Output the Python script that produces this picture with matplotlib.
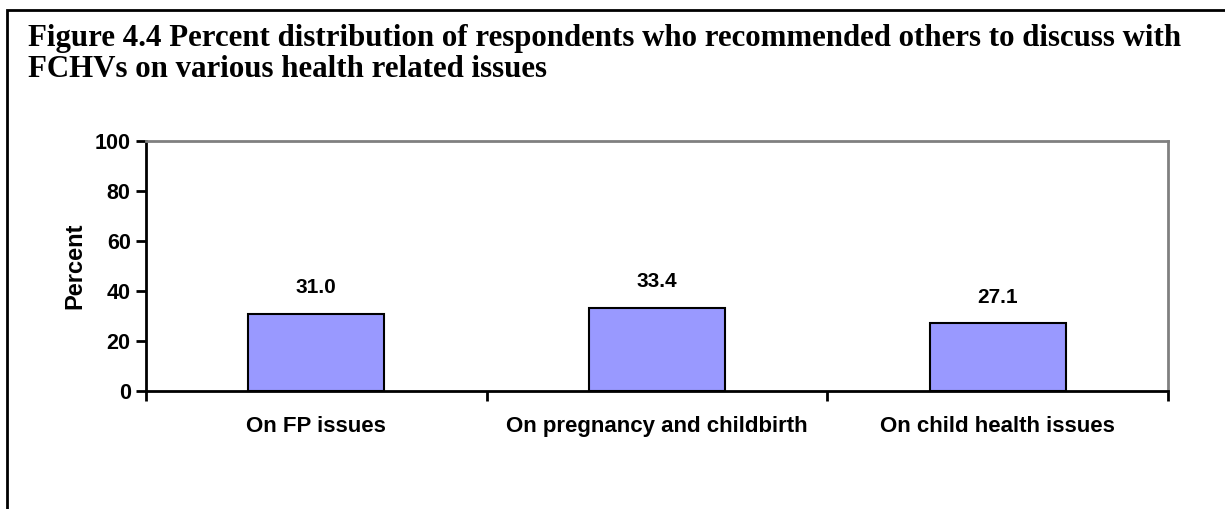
import matplotlib.pyplot as plt
from matplotlib.patches import Rectangle

categories = ['On FP issues', 'On pregnancy and childbirth', 'On child health issues']
values = [31.0, 33.4, 27.1]
yticks = [0, 20, 40, 60, 80, 100]

title_lines = ['Figure 4.4 Percent distribution of respondents who recommended others to discuss with',
               'FCHVs on various health related issues']

W, H = 1225, 509
fig = plt.figure(figsize=(W / 100, H / 100), dpi=100)

# outer frame (only left/top visible in the crop)
fig.patches.append(Rectangle((7 / W, -0.1), 1.2, 1 - 10 / H + 0.1, transform=fig.transFigure,
                             fill=False, edgecolor='black', linewidth=2))

for k, line in enumerate(title_lines):
    fig.text(28 / W, 1 - (46 + 31 * k) / H, line, family='Liberation Serif', fontweight='bold',
             fontsize=22.2, va='baseline', ha='left')

ax = fig.add_axes([146 / W, 1 - 391 / H, (1168 - 146) / W, (391 - 141) / H])
x = range(len(categories))
ax.bar(x, values, width=0.4, color='#9999FF', edgecolor='black', linewidth=1.5)
for i, v in enumerate(values):
    ax.text(i, v + 6.5, f'{v:.1f}', ha='center', va='bottom', family='Liberation Sans',
            fontweight='bold', fontsize=15)

ax.set_xlim(-0.5, len(categories) - 0.5)
ax.set_ylim(0, 100)
ax.set_yticks(yticks)
ax.set_yticklabels([str(t) for t in yticks], family='Liberation Sans', fontweight='bold', fontsize=15.5)
ax.set_xticks([i - 0.5 for i in range(len(categories) + 1)])
ax.set_xticklabels([])
ax.set_xticks(list(x), minor=True)
ax.set_xticklabels(categories, minor=True, family='Liberation Sans', fontweight='bold', fontsize=16)
ax.tick_params(axis='x', which='minor', length=0, pad=18)
ax.tick_params(axis='x', which='major', length=7, width=2, direction='out')
ax.tick_params(axis='y', length=7, width=2, direction='out', pad=4)
ax.set_ylabel('Percent', family='Liberation Sans', fontweight='bold', fontsize=17, labelpad=6)

for s in ['top', 'right']:
    ax.spines[s].set_color('#808080')
    ax.spines[s].set_linewidth(2)
for s in ['left', 'bottom']:
    ax.spines[s].set_color('black')
    ax.spines[s].set_linewidth(2)

fig.savefig('out.png', dpi=100)
